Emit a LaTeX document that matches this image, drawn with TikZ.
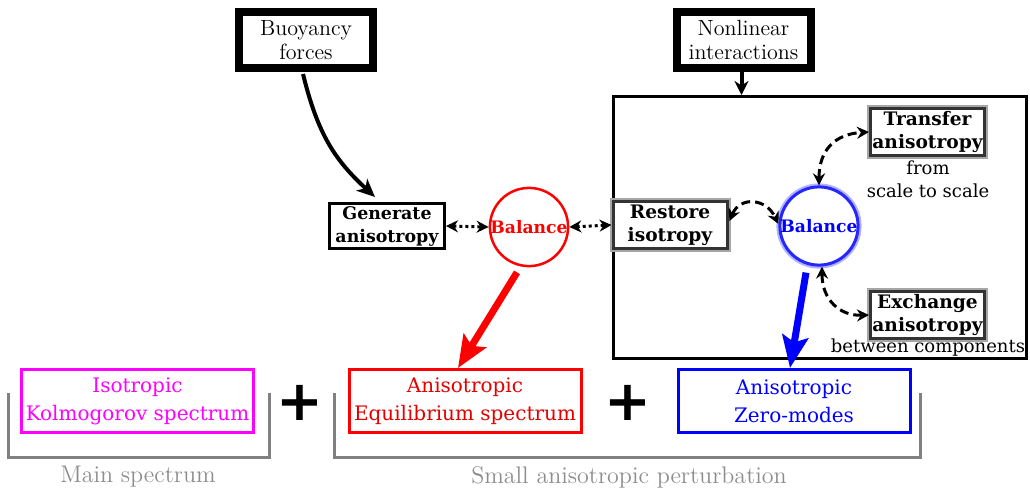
\documentclass[tikz,border=0pt]{standalone}
\usepackage{fontspec}
\newfontfamily\dvs{DejaVu Serif}
\newfontfamily\dvsans{DejaVu Sans}
\usetikzlibrary{arrows.meta,calc}
\definecolor{mag}{RGB}{255,0,255}
\definecolor{pure red}{RGB}{255,0,0}
\definecolor{pure blue}{RGB}{0,0,255}
\begin{document}
\begin{tikzpicture}[x=0.5pt,y=-0.5pt,
  thickbox/.style={draw, line width=4pt, fill=white, minimum width=67pt, minimum height=28pt, inner sep=0pt, align=center, font=\fontsize{11}{12}\selectfont},
  genbox/.style={draw, line width=1.5pt, fill=white, minimum width=57.5pt, minimum height=22.5pt, inner sep=0pt, align=center, font=\dvs\bfseries\fontsize{8.7}{11.5}\selectfont},
  glowbox/.style={draw=black!80, line width=1.5pt, fill=white, preaction={draw=black!35, line width=3.5pt}, minimum width=57pt, minimum height=23.5pt, inner sep=0pt, align=center, font=\dvs\bfseries\fontsize{9.3}{11.5}\selectfont},
  balance/.style={circle, fill=white, minimum size=38pt, inner sep=0pt, font=\dvs\bfseries\fontsize{8.6}{10}\selectfont},
  specbox/.style={draw, line width=1.5pt, fill=white, minimum width=116pt, minimum height=31.5pt, inner sep=0pt, align=center, font=\dvs\fontsize{10}{14}\selectfont},
  note/.style={font=\dvs\fontsize{9}{11.5}\selectfont, align=center, inner sep=0pt},
  bracket/.style={draw=black!50, line width=1.5pt},
  caption/.style={text=black!45, inner sep=0pt, font=\fontsize{12}{14}\selectfont},
  plus/.style={inner sep=0pt, font=\dvsans\bfseries\fontsize{28}{30}\selectfont},
  curvearrow/.style={line width=2pt, -{Stealth[length=9pt,width=8pt,inset=2.5pt]}},
  bigarrow/.style={line width=3.5pt, -{Stealth[length=16pt,width=13pt,inset=3pt]}},
  dotarrow/.style={line width=1.5pt, dash pattern=on 1.5pt off 1.5pt, {Stealth[length=6pt,width=6pt]}-{Stealth[length=6pt,width=6pt]}},
  dasharrow/.style={line width=1.5pt, dash pattern=on 4.5pt off 2.5pt, {Stealth[length=6pt,width=6pt]}-{Stealth[length=6pt,width=6pt]}}
]
\useasboundingbox (0,0) rectangle (1030,489);

% frame
\node[draw, line width=1.5pt, minimum width=206.5pt, minimum height=131pt, inner sep=0pt] (frame) at (820,227.5) {};

% top boxes
\node[thickbox] (buoy) at (306,40) {Buoyancy\\forces};
\node[thickbox] (nonlin) at (743.5,40) {Nonlinear\\interactions};

% middle
\node[genbox] (gen) at (387,226) {Generate\\anisotropy};
\node[balance, draw=pure red, line width=1.25pt, text=pure red] (bal1) at (529,227) {Balance};
\node[glowbox] (rest) at (670,225) {Restore\\isotropy};
\node[balance, draw=pure blue!85, line width=1.5pt, preaction={draw=pure blue!30, line width=3.5pt}, text=pure blue] (bal2) at (819,226) {Balance};
\node[glowbox] (trans) at (927.5,132) {Transfer\\anisotropy};
\node[glowbox] (exch) at (927.5,315) {Exchange\\anisotropy};
\node[note] (transnote) at (928,179) {from\\scale to scale};
\node[note] (exchnote) at (928,348) {between components};

% bottom
\node[specbox, draw=mag, text=mag] (iso) at (137.5,401) {Isotropic\\Kolmogorov spectrum};
\node[specbox, draw=pure red, text=pure red!90!black] (equ) at (465,401) {Anisotropic\\Equilibrium spectrum};
\node[specbox, draw=pure blue, text=pure blue] (zero) at (794,401) {Anisotropic\\Zero-modes};
\node[plus] (plus1) at (300,403) {+};
\node[plus] (plus2) at (628,403) {+};

\draw[bracket] (8,393) -- (8,457) -- (269,457) -- (269,393);
\draw[bracket] (334,393) -- (334,457) -- (920,457) -- (920,393);
\node[caption] (cap1) at (138,477) {Main spectrum};
\node[caption] (cap2) at (629,477) {Small anisotropic perturbation};

% connectors
\draw[curvearrow] ($(buoy.south)+(-3,2)$) .. controls (318,135) and (335,160) .. ($(gen.north)+(-12,-5)$);
\draw[line width=2pt, -{Stealth[length=7pt,width=7pt]}] ($(nonlin.south)+(-2,0)$) -- ($(nonlin.south |- frame.north)+(-2,0)$);
\draw[dotarrow] (gen.east) -- (bal1.west);
\draw[dotarrow] (bal1.east) -- (rest.west);
\draw[bigarrow, pure red] ($(bal1.south)+(-12,5)$) -- ($(equ.north)+(-7,0)$);
\draw[bigarrow, pure blue] ($(bal2.south)+(-13,6)$) -- ($(zero.north)+(-4,0)$);
\draw[dasharrow] ($(rest.east)+(1,-4)$) .. controls (740,196) and (766,198) .. ($(bal2.west)+(0,-2)$);
\draw[dasharrow] (bal2.north) .. controls (819,150) and (835,134) .. (trans.west);
\draw[dasharrow] ($(bal2.south)+(3,0)$) .. controls (822,300) and (840,316) .. (exch.west);
\end{tikzpicture}
\end{document}
